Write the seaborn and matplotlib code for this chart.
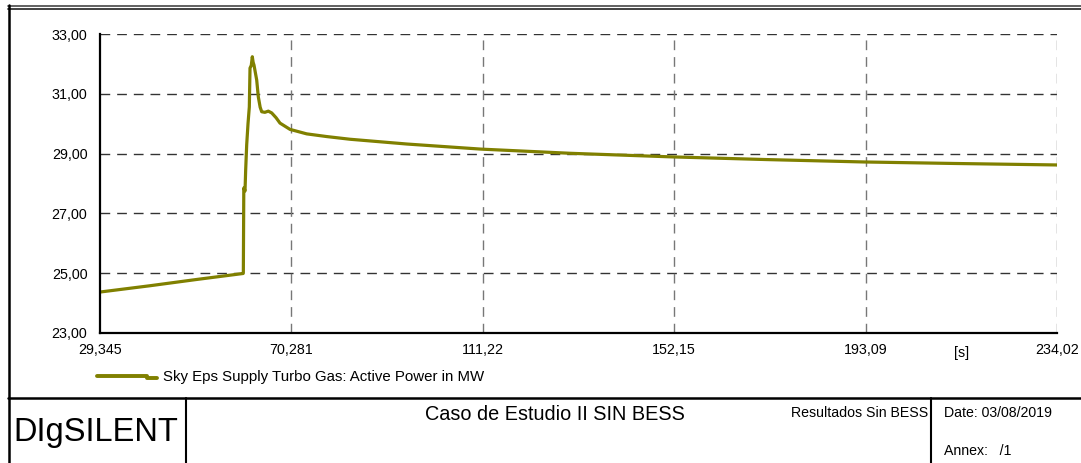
import matplotlib.pyplot as plt
import matplotlib.ticker as mticker
from matplotlib.lines import Line2D
import pandas as pd
import seaborn as sns

# datos (tiempo en s, potencia en MW)
time_s = [29.345, 40.0, 50.0, 59.95, 60.0, 60.1, 60.36, 60.5, 60.72, 61.0, 61.28, 61.43,
          61.7, 61.92, 62.1, 62.28, 62.86, 63.2, 63.6, 63.93, 64.6, 65.34, 66.07, 67.0,
          67.84, 69.98, 73.55, 77.83, 82.81, 95.0, 110.83, 130.0, 151.68, 172.0,
          192.74, 212.0, 234.02]
power_mw = [24.37, 24.58, 24.79, 24.99, 25.0, 27.85, 27.75, 28.45, 29.3, 30.0, 30.56, 31.86,
            31.95, 32.24, 32.05, 31.96, 31.46, 30.9, 30.55, 30.4, 30.38, 30.42, 30.36, 30.2,
            30.02, 29.81, 29.66, 29.57, 29.48, 29.32, 29.15, 29.01, 28.89, 28.8,
            28.72, 28.67, 28.62]

x_ticks = [29.345, 70.281, 111.22, 152.15, 193.09, 234.02]
x_labels = ['29,345', '70,281', '111,22', '152,15', '193,09', '234,02']
y_ticks = [23, 25, 27, 29, 31, 33]

series_name = 'Sky Eps Supply Turbo Gas: Active Power in MW'
df = pd.DataFrame({'t': time_s, 'P': power_mw})

sns.set_style('white')
plt.rcParams['font.family'] = ['Liberation Sans', 'DejaVu Sans']
plt.rcParams['text.color'] = 'black'
plt.rcParams['xtick.color'] = 'black'
plt.rcParams['ytick.color'] = 'black'

W, H = 1081, 463
fig = plt.figure(figsize=(W / 100, H / 100), dpi=100)
ax = fig.add_axes([100 / W, (H - 333) / H, 957 / W, 299 / H])

sns.lineplot(data=df, x='t', y='P', color='#808000', linewidth=2.3, ax=ax)

ax.set_xlim(29.345, 234.02)
ax.set_ylim(23, 33)
ax.set_xticks(x_ticks)
ax.set_xticklabels(x_labels)
ax.set_yticks(y_ticks)
ax.yaxis.set_major_formatter(mticker.FuncFormatter(lambda v, p: f'{v:.2f}'.replace('.', ',')))
minor_x = [(a + b) / 2 for a, b in zip(x_ticks[:-1], x_ticks[1:])]
ax.set_xticks(minor_x, minor=True)
ax.set_yticks([24, 26, 28, 30, 32], minor=True)
ax.set_xlabel('')
ax.set_ylabel('')

for s in ['top', 'right']:
    ax.spines[s].set_visible(False)
for s in ['left', 'bottom']:
    ax.spines[s].set_color('black')
    ax.spines[s].set_linewidth(1.6)

ax.tick_params(which='major', direction='in', length=9, width=1.2, color='black',
               labelsize=10.3, pad=9)
ax.tick_params(which='minor', direction='in', length=5, width=1.0, color='#444444')
ax.tick_params(axis='x', pad=7)

# rejilla discontinua
for yv in y_ticks[1:]:
    ax.axhline(yv, color='#333333', lw=1.0, dashes=(7, 5), zorder=0)
for xv in x_ticks[1:]:
    ax.axvline(xv, color='#777777', lw=1.0, dashes=(7, 5), zorder=0)

# unidad en la posicion del tick menor
ax.text(minor_x[-1], -0.045, '[s]', transform=ax.get_xaxis_transform(),
        ha='center', va='top', fontsize=10.3)

# marco estilo DIgSILENT
def fline(xs, ys, lw=1.5, color='black'):
    fig.add_artist(Line2D([x / W for x in xs], [1 - y / H for y in ys],
                          color=color, lw=lw, transform=fig.transFigure))

fline([8, W], [5.5, 5.5], lw=1.3, color='#555555')
fline([8, W], [8.5, 8.5], lw=1.3, color='#333333')
fline([8.5, 8.5], [5, H], lw=1.8)
fline([8, W], [398, 398], lw=1.8)
fline([186, 186], [398, H], lw=1.5)
fline([931, 931], [398, H], lw=1.5)

# leyenda
fline([97, 147, 147, 157], [376, 376, 378, 378], lw=2.8, color='#808000')
fig.text(163 / W, 1 - 377 / H, series_name, fontsize=10.8, va='center', ha='left')

# cajetin
fig.text(13 / W, 1 - 432 / H, 'DIgSILENT', fontsize=23.5, va='center', ha='left')
fig.text(555 / W, 1 - 414 / H, 'Caso de Estudio II SIN BESS', fontsize=14.3, va='center', ha='center')
fig.text(928 / W, 1 - 413 / H, 'Resultados Sin BESS', fontsize=10.2, va='center', ha='right')
fig.text(944 / W, 1 - 413 / H, 'Date: 03/08/2019', fontsize=10.2, va='center', ha='left')
fig.text(944 / W, 1 - 451 / H, 'Annex:   /1', fontsize=10.2, va='center', ha='left')

fig.savefig('out.png', dpi=100)
